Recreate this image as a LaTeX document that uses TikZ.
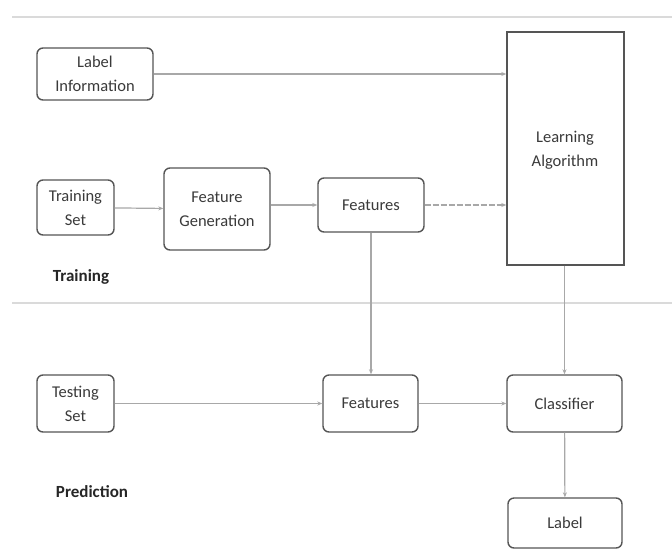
\documentclass[tikz,border=0pt]{standalone}
\usepackage{fontspec}
\setmainfont{Carlito}
\usetikzlibrary{arrows.meta}
\definecolor{boxline}{HTML}{555555}
\definecolor{txt}{HTML}{3A3A3A}
\definecolor{arr}{HTML}{A8A8A8}
\definecolor{sep}{HTML}{DADADA}
\tikzset{
  x=1pt, y=-1pt,
  box/.style={draw=boxline, line width=1.4pt, rounded corners=6pt, align=center, text=txt, font=\fontsize{16.5}{24}\selectfont, inner sep=0pt},
  sqbox/.style={draw=boxline, line width=1.4pt, align=center, text=txt, font=\fontsize{16.5}{24}\selectfont, inner sep=0pt},
  conn/.style={draw=arr, line width=1.2pt, -{Stealth[length=5pt,width=4pt]}},
  sepline/.style={draw=sep, line width=2.5pt},
  phase/.style={font=\bfseries\fontsize{17}{20}\selectfont, text=black!85}
}
\begin{document}
\begin{tikzpicture}
\useasboundingbox (0,0) rectangle (672,558);
\fill[white] (0,0) rectangle (672,558);
% separator lines
\coordinate (t1) at (12,17); \coordinate (t2) at (672,17);
\coordinate (m1) at (12,303); \coordinate (m2) at (672,303);
\draw[sepline] (t1) -- (t2);
\draw[sepline] (m1) -- (m2);
% nodes
\node[box, minimum width=116pt, minimum height=52pt] (labinfo) at (95,74) {Label\\Information};
\node[sqbox, minimum width=117pt, minimum height=233pt] (learn) at (565.5,148.5) {};
\node[text=txt, font=\fontsize{16.5}{24}\selectfont, align=center] (learntxt) at (565,150) {Learning\\Algorithm};
\node[box, minimum width=77pt, minimum height=55pt] (trainset) at (75.5,207.5) {Training\\Set};
\node[box, minimum width=106pt, minimum height=82pt] (featgen) at (217,209) {Feature\\Generation};
\node[box, minimum width=106pt, minimum height=54pt] (feat1) at (371,205) {Features};
\node[phase] (training) at (81,277) {Training};
\node[box, minimum width=77pt, minimum height=57pt] (testset) at (75.5,403.5) {Testing\\Set};
\node[box, minimum width=95pt, minimum height=57pt] (feat2) at (370.5,403.5) {Features};
\node[box, minimum width=115pt, minimum height=57pt] (classifier) at (564.5,403.5) {Classifier};
\node[phase] (prediction) at (92,492) {Prediction};
\node[box, minimum width=114pt, minimum height=50pt] (label) at (565,523) {Label};
% connectors
\draw[conn] (labinfo.east) -- (labinfo.east -| learn.west);
\draw[conn] (trainset) -- (featgen);
\draw[conn] (featgen.east |- feat1) -- (feat1);
\draw[conn, dash pattern=on 6pt off 2pt] (feat1) -- (feat1 -| learn.west);
\draw[conn] (feat1.south) -- (feat1.south |- feat2.north);
\draw[conn] (learn.south -| classifier.north) -- (classifier.north);
\draw[conn] (testset) -- (feat2);
\draw[conn] (feat2) -- (classifier);
\draw[conn] (classifier) -- (label);
\end{tikzpicture}
\end{document}
